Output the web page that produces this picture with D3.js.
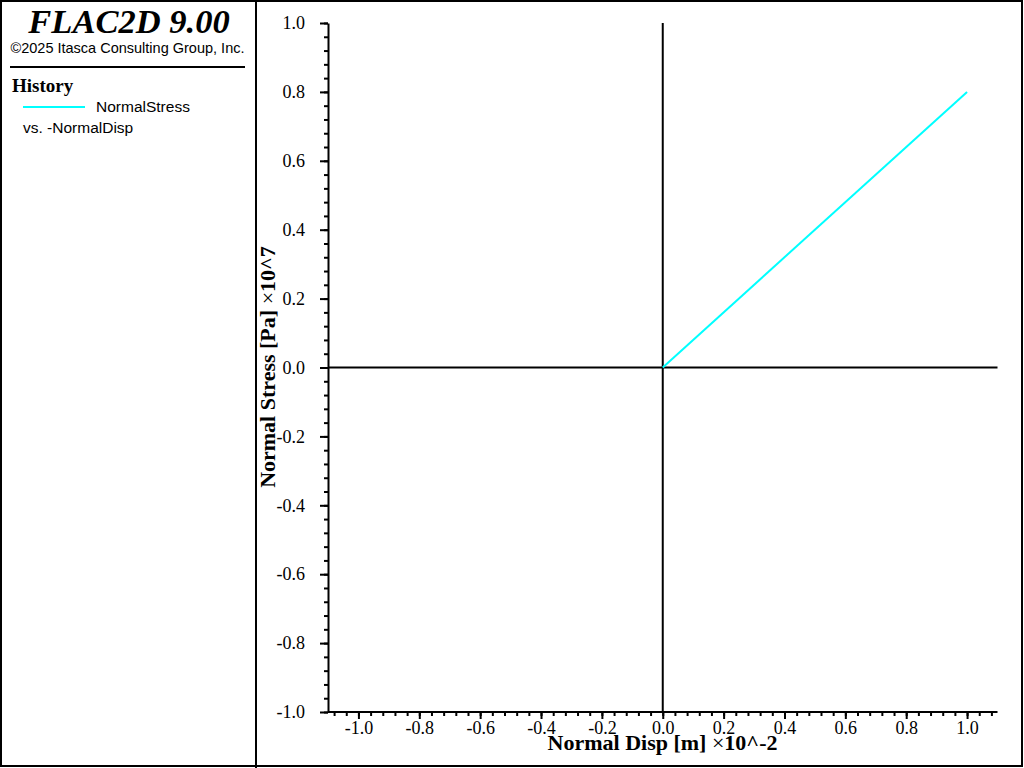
<!DOCTYPE html>
<html><head><meta charset="utf-8">
<script src="https://cdn.jsdelivr.net/npm/d3@7"></script>
<style>body{margin:0;background:#fff}svg{display:block}</style>
</head><body>
<script>
// Data (x in units of 1e-2 m, y in units of 1e7 Pa)
const normalDisp = [0.0, 1.0];
const normalStress = [0.0, 0.8];
const xTickValues = [-1.0, -0.8, -0.6, -0.4, -0.2, 0.0, 0.2, 0.4, 0.6, 0.8, 1.0];
const yTickValues = [-1.0, -0.8, -0.6, -0.4, -0.2, 0.0, 0.2, 0.4, 0.6, 0.8, 1.0];
const xDomain = [-1.1, 1.1];
const yDomain = [-1.0, 1.0];

const SERIF = "'Liberation Serif', 'Times New Roman', serif";
const SANS = "'Liberation Sans', Arial, sans-serif";

const W = 1024, H = 768;
const svg = d3.select("body").append("svg").attr("width", W).attr("height", H);

// Frames
svg.append("rect").attr("x",1).attr("y",1).attr("width",1021).attr("height",765)
  .attr("fill","none").attr("stroke","#000").attr("stroke-width",2);
svg.append("line").attr("x1",256).attr("x2",256).attr("y1",0).attr("y2",768)
  .attr("stroke","#000").attr("stroke-width",2);

// Left panel
svg.append("text").attr("x",129).attr("y",33).attr("text-anchor","middle")
  .style("font-family",SERIF).style("font-style","italic").style("font-weight","bold")
  .style("font-size","34.5px").text("FLAC2D 9.00");
svg.append("text").attr("x",127.5).attr("y",53).attr("text-anchor","middle")
  .style("font-family",SANS).style("font-size","14.5px").text("©2025 Itasca Consulting Group, Inc.");
svg.append("line").attr("x1",10).attr("x2",245).attr("y1",67).attr("y2",67)
  .attr("stroke","#000").attr("stroke-width",2);
svg.append("text").attr("x",12).attr("y",92).style("font-family",SERIF)
  .style("font-weight","bold").style("font-size","19px").text("History");
svg.append("line").attr("x1",23).attr("x2",85).attr("y1",107).attr("y2",107)
  .attr("stroke","#00ffff").attr("stroke-width",2);
svg.append("text").attr("x",96).attr("y",112).style("font-family",SANS)
  .style("font-size","15.5px").text("NormalStress");
svg.append("text").attr("x",23).attr("y",133).style("font-family",SANS)
  .style("font-size","15.5px").text("vs. -NormalDisp");

// Scales
const x = d3.scaleLinear().domain(xDomain).range([328, 997.5]);
const y = d3.scaleLinear().domain(yDomain).range([712, 23]);

const fmt = d => { const s = d3.format(".1f")(Math.abs(d) < 1e-9 ? 0 : d); return s.replace("\u2212","-"); };
const minorX = d3.range(-27, 28).map(i => i * 0.04).filter(v => Math.abs(v) <= 1.1);
const minorY = d3.range(-25, 26).map(i => i * 0.04);

// X axis
const gx = svg.append("g").attr("transform", `translate(0,${y(-1.0)})`);
gx.call(d3.axisBottom(x).tickValues(minorX).tickSize(4).tickFormat(""));
gx.call(g => g.select(".domain").remove());
const gx2 = svg.append("g").attr("transform", `translate(0,${y(-1.0)})`);
gx2.call(d3.axisBottom(x).tickValues(xTickValues).tickSize(7).tickSizeOuter(0).tickPadding(0)
  .tickFormat(fmt));
gx2.select(".domain").attr("d", `M${x(xDomain[0])},0H${x(xDomain[1])}`);
gx2.selectAll(".tick text").attr("y", 22).attr("dy", null);

// Y axis
const gy = svg.append("g").attr("transform", `translate(${x(xDomain[0])},0)`);
gy.call(d3.axisLeft(y).tickValues(minorY).tickSize(4).tickFormat(""));
gy.call(g => g.select(".domain").remove());
const gy2 = svg.append("g").attr("transform", `translate(${x(xDomain[0])},0)`);
gy2.call(d3.axisLeft(y).tickValues(yTickValues).tickSize(8).tickSizeOuter(0).tickPadding(15)
  .tickFormat(fmt));

svg.selectAll(".tick line, .domain").attr("stroke","#000").attr("stroke-width",2);
svg.selectAll(".tick text").attr("fill","#000").style("font-family",SERIF).style("font-size","18px");

// Zero lines
svg.append("line").attr("x1",x(0)).attr("x2",x(0)).attr("y1",y(1)).attr("y2",y(-1))
  .attr("stroke","#000").attr("stroke-width",2);
svg.append("line").attr("x1",x(xDomain[0])).attr("x2",x(xDomain[1])).attr("y1",y(0)).attr("y2",y(0))
  .attr("stroke","#000").attr("stroke-width",2);

// Data line
const line = d3.line().x((d,i) => x(normalDisp[i])).y((d,i) => y(normalStress[i]));
svg.append("path").datum(normalDisp).attr("d", line).attr("fill","none")
  .attr("stroke","#00ffff").attr("stroke-width",2);

// Axis titles
const xt = svg.append("text").attr("x",662.5).attr("y",750).attr("text-anchor","middle")
  .style("font-family",SERIF).style("font-size","22px").attr("fill","#000");
xt.append("tspan").style("font-weight","bold").text("Normal Disp [m] ");
xt.append("tspan").text("×");
xt.append("tspan").style("font-weight","bold").text("10^-2");

const yt = svg.append("text").attr("transform","translate(275,367) rotate(-90)").attr("text-anchor","middle")
  .style("font-family",SERIF).style("font-size","22px").attr("fill","#000");
yt.append("tspan").style("font-weight","bold").text("Normal Stress [Pa] ");
yt.append("tspan").text("×");
yt.append("tspan").style("font-weight","bold").text("10^7");
</script>
</body></html>
